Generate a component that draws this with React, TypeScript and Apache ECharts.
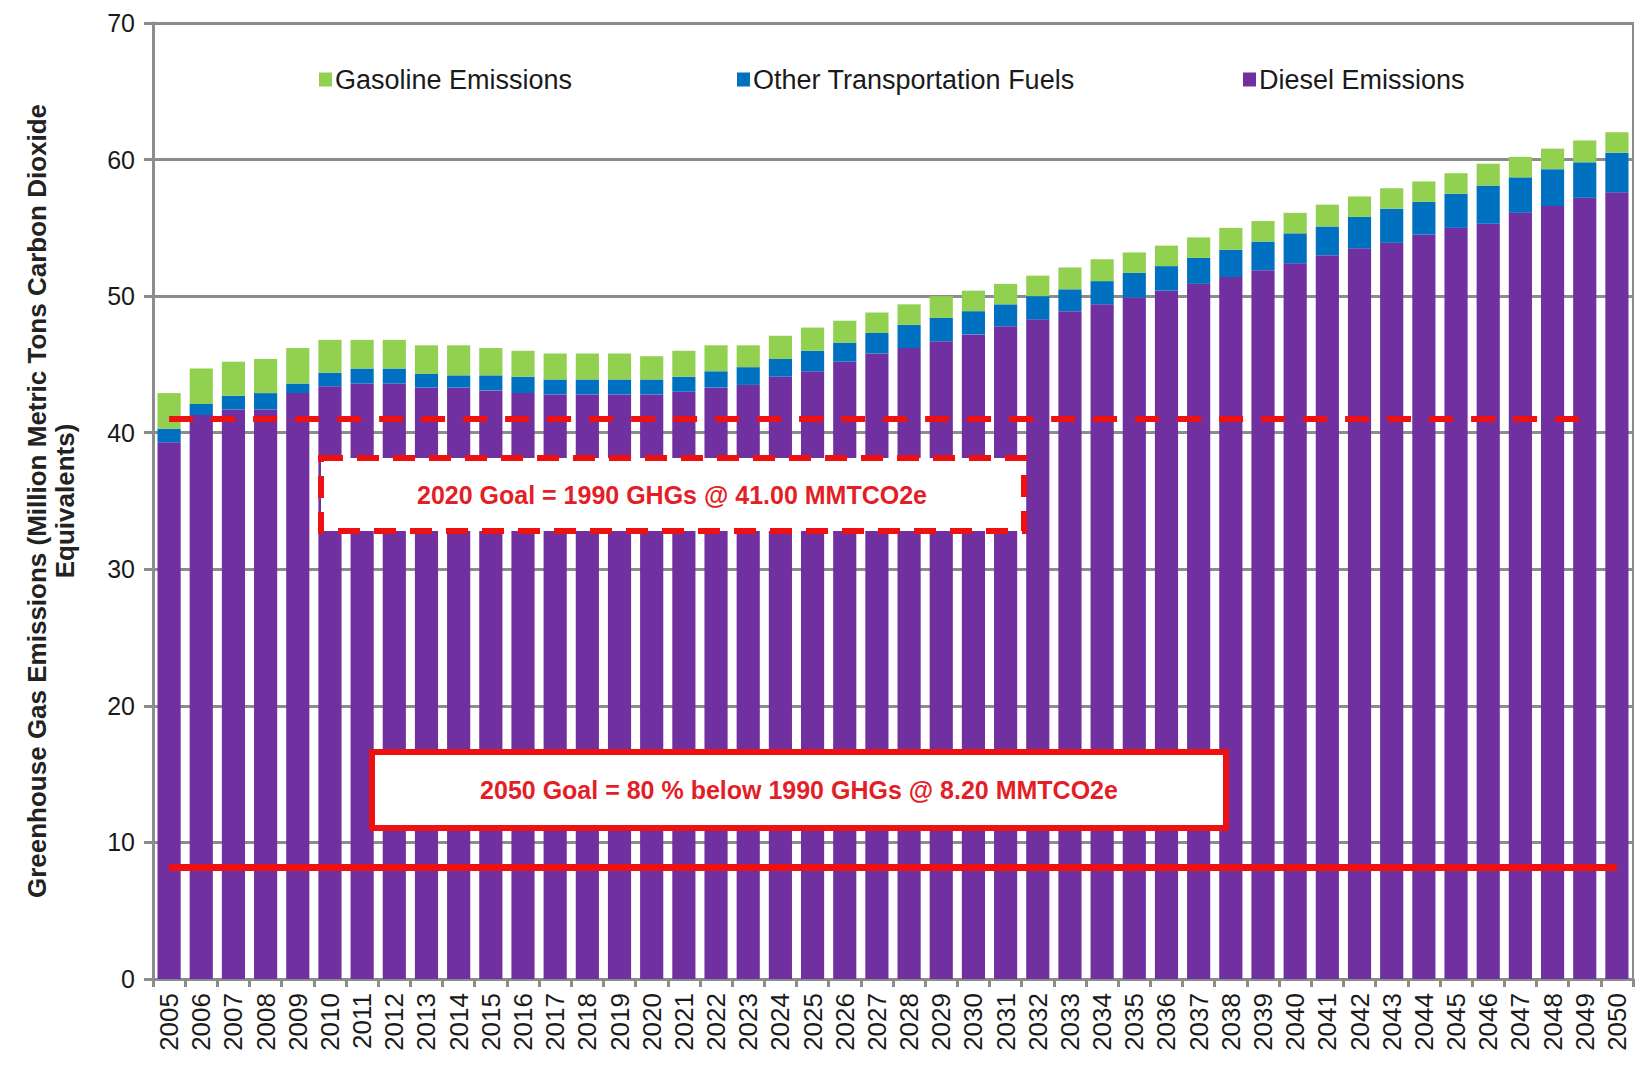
import React, { useEffect, useRef } from "react";
import * as echarts from "echarts";

const years = [
  "2005", "2006", "2007", "2008", "2009", "2010", "2011", "2012", "2013", "2014",
  "2015", "2016", "2017", "2018", "2019", "2020", "2021", "2022", "2023", "2024",
  "2025", "2026", "2027", "2028", "2029", "2030", "2031", "2032", "2033", "2034",
  "2035", "2036", "2037", "2038", "2039", "2040", "2041", "2042", "2043", "2044",
  "2045", "2046", "2047", "2048", "2049", "2050",
];

const dieselEmissions = [
  39.3, 41.3, 41.7, 41.7, 42.9, 43.4, 43.6, 43.6,
  43.3, 43.3, 43.1, 42.9, 42.8, 42.8, 42.8, 42.8, 43.0, 43.3, 43.5, 44.1,
  44.5, 45.2, 45.8, 46.2, 46.7, 47.2, 47.8, 48.3, 48.9, 49.4, 49.9, 50.4,
  50.9, 51.4, 51.9, 52.4, 53.0, 53.5, 53.9, 54.5, 55.0, 55.3, 56.1, 56.6, 57.2, 57.6,
];

const otherFuels = [
  1.0, 0.8, 1.0, 1.2, 0.7, 1.0, 1.1, 1.1,
  1.0, 0.9, 1.1, 1.2, 1.1, 1.1, 1.1, 1.1, 1.1, 1.2, 1.3, 1.3,
  1.5, 1.4, 1.5, 1.7, 1.7, 1.7, 1.6, 1.7, 1.6, 1.7, 1.8, 1.8,
  1.9, 2.0, 2.1, 2.2, 2.1, 2.3, 2.5, 2.4, 2.5, 2.8, 2.6, 2.7, 2.6, 2.9,
];

const gasolineEmissions = [
  2.6, 2.6, 2.5, 2.5, 2.6, 2.4, 2.1, 2.1,
  2.1, 2.2, 2.0, 1.9, 1.9, 1.9, 1.9, 1.7, 1.9, 1.9, 1.6, 1.7,
  1.7, 1.6, 1.5, 1.5, 1.6, 1.5, 1.5, 1.5, 1.6, 1.6, 1.5, 1.5,
  1.5, 1.6, 1.5, 1.5, 1.6, 1.5, 1.5, 1.5, 1.5, 1.6, 1.5, 1.5, 1.6, 1.5,
];

const yTicks = { min: 0, max: 70, interval: 10 };

const goal2020 = { value: 41.0, from: "2005", to: "2049" };
const goal2050 = { value: 8.2, from: "2005", to: "2050" };

const goal2020Text = "2020 Goal = 1990 GHGs @ 41.00 MMTCO2e";
const goal2050Text = "2050 Goal = 80 % below 1990 GHGs @ 8.20 MMTCO2e";

const FONT = "'Liberation Sans', Arial, sans-serif";
const PURPLE = "#7030A0";
const BLUE = "#0070C0";
const GREEN = "#92D050";
const RED = "#EE1111";
const GRAY = "#8C8C8C";

export default function App() {
  const ref = useRef<HTMLDivElement>(null);

  useEffect(() => {
    document.body.style.margin = "0";
    document.body.style.overflow = "hidden";
    const chart = echarts.init(ref.current!, null, { renderer: "svg" });

    const legendBase = {
      top: 66,
      itemWidth: 13,
      itemHeight: 14,
      icon: "rect",
      padding: 0,
      textStyle: { fontFamily: FONT, fontSize: 27, color: "#1a1a1a", padding: [0, 0, 0, -2] },
    };

    chart.setOption({
      animation: false,
      backgroundColor: "#ffffff",
      grid: {
        left: 153,
        right: 10,
        top: 23,
        bottom: 95,
        show: true,
        borderColor: GRAY,
        borderWidth: 2,
        backgroundColor: "transparent",
      },
      legend: [
        { ...legendBase, left: 319, data: ["Gasoline Emissions"] },
        { ...legendBase, left: 737, data: ["Other Transportation Fuels"] },
        { ...legendBase, left: 1243, data: ["Diesel Emissions"] },
      ],
      xAxis: {
        type: "category",
        data: years,
        axisLine: { lineStyle: { color: GRAY, width: 3 } },
        axisTick: { show: true, length: 8, lineStyle: { color: GRAY, width: 3 } },
        axisLabel: {
          rotate: 90,
          margin: 14,
          fontFamily: FONT,
          fontSize: 26,
          color: "#1a1a1a",
          interval: 0,
        },
      },
      yAxis: {
        type: "value",
        min: yTicks.min,
        max: yTicks.max,
        interval: yTicks.interval,
        name: "Greenhouse Gas Emissions (Million Metric Tons Carbon Dioxide\nEquivalents)",
        nameLocation: "middle",
        nameGap: 74,
        nameTextStyle: {
          fontFamily: FONT,
          fontSize: 26,
          fontWeight: "bold",
          color: "#222",
          lineHeight: 28,
        },
        axisLine: { show: true, lineStyle: { color: GRAY, width: 3 } },
        axisTick: { show: true, length: 9, lineStyle: { color: GRAY, width: 3 } },
        axisLabel: { margin: 18, fontFamily: FONT, fontSize: 25, color: "#1a1a1a" },
        splitLine: { show: true, lineStyle: { color: GRAY, width: 3 } },
      },
      series: [
        {
          name: "Diesel Emissions",
          type: "bar",
          stack: "total",
          data: dieselEmissions,
          barCategoryGap: "28%",
          itemStyle: { color: PURPLE },
          markLine: {
            silent: true,
            symbol: ["none", "none"],
            label: { show: false },
            z: 5,
            data: [
              [
                { coord: [goal2020.from, goal2020.value], lineStyle: { color: RED, width: 6, type: [24, 18], cap: "butt" } },
                { coord: [goal2020.to, goal2020.value] },
              ],
              [
                { coord: [goal2050.from, goal2050.value], lineStyle: { color: RED, width: 7, type: "solid" } },
                { coord: [goal2050.to, goal2050.value] },
              ],
            ],
          },
        },
        {
          name: "Other Transportation Fuels",
          type: "bar",
          stack: "total",
          data: otherFuels,
          itemStyle: { color: BLUE },
        },
        {
          name: "Gasoline Emissions",
          type: "bar",
          stack: "total",
          data: gasolineEmissions,
          itemStyle: { color: GREEN },
        },
      ],
      graphic: [
        {
          type: "rect",
          z: 100,
          shape: { x: 321, y: 458, width: 703, height: 73 },
          style: { fill: "#ffffff", stroke: RED, lineWidth: 6, lineDash: [22, 14] },
        },
        {
          type: "text",
          z: 101,
          x: 672,
          y: 495,
          style: {
            text: goal2020Text,
            fontFamily: FONT,
            fontSize: 25,
            fontWeight: "bold",
            fill: "#E41E26",
            align: "center",
            verticalAlign: "middle",
          },
        },
        {
          type: "rect",
          z: 100,
          shape: { x: 372, y: 752, width: 854, height: 76 },
          style: { fill: "#ffffff", stroke: RED, lineWidth: 6 },
        },
        {
          type: "text",
          z: 101,
          x: 799,
          y: 790,
          style: {
            text: goal2050Text,
            fontFamily: FONT,
            fontSize: 25,
            fontWeight: "bold",
            fill: "#E41E26",
            align: "center",
            verticalAlign: "middle",
          },
        },
      ],
    });

    return () => chart.dispose();
  }, []);

  return <div ref={ref} style={{ width: 1643, height: 1074 }} />;
}
